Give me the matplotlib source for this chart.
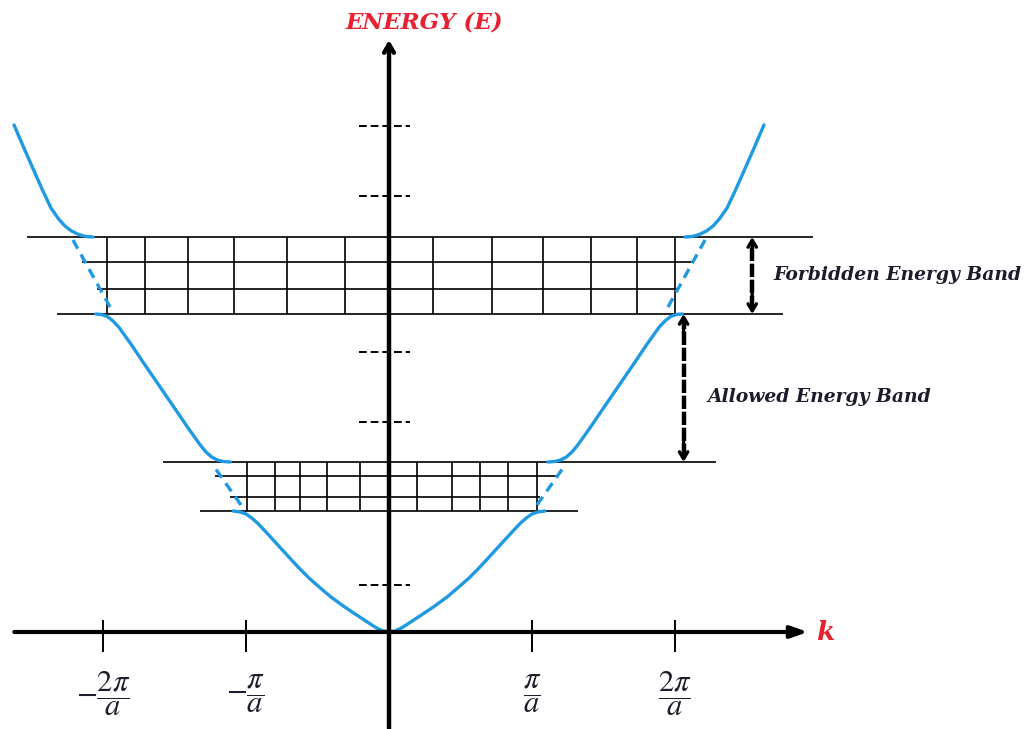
import numpy as np
import matplotlib.pyplot as plt

plt.rcParams["mathtext.fontset"] = "stix"

# k in units of pi/a, E in arbitrary energy units.
# Right-hand branches (k >= 0); the left side is the mirror image.
band1_k = [0.0, 0.04, 0.08, 0.12, 0.168, 0.24, 0.32, 0.406, 0.48, 0.56, 0.636,
           0.71, 0.79, 0.867, 0.92, 0.96, 1.00, 1.04, 1.09]
band1_E = [0.0, 0.01, 0.035, 0.07, 0.115, 0.183, 0.26, 0.35, 0.44, 0.54, 0.65,
           0.765, 0.89, 1.01, 1.09, 1.14, 1.18, 1.20, 1.21]

band2_k = [1.11, 1.16, 1.20, 1.24, 1.28, 1.32, 1.36, 1.40, 1.50, 1.615, 1.73,
           1.80, 1.85, 1.89, 1.93, 1.97, 2.01, 2.05]
band2_E = [1.70, 1.705, 1.72, 1.75, 1.80, 1.87, 1.95, 2.03, 2.24, 2.48, 2.72,
           2.87, 2.97, 3.05, 3.11, 3.155, 3.175, 3.18]

band3_k = [2.07, 2.12, 2.17, 2.22, 2.266, 2.31, 2.364, 2.42, 2.476, 2.55, 2.622]
band3_E = [3.95, 3.955, 3.975, 4.01, 4.06, 4.13, 4.24, 4.41, 4.59, 4.83, 5.07]

# free-electron parabola continued (dashed) through each gap
gap1_free_k = [1.035, 1.217]
gap1_free_E = [1.27, 1.64]
gap2_free_k = [1.951, 2.21]
gap2_free_E = [3.25, 3.92]

# hatching of the forbidden bands: (E, k_left, k_right)
gap2_rows_E = [3.95, 3.70, 3.43, 3.18]
gap2_rows_kl = [-2.531, -2.147, -2.042, -2.322]
gap2_rows_kr = [2.965, 2.119, 2.014, 2.755]
gap2_cols_k = [-1.972, -1.706, -1.406, -1.084, -0.713, -0.308,
               0.308, 0.720, 1.077, 1.413, 1.734, 2.000]

gap1_rows_E = [1.70, 1.56, 1.35, 1.21]
gap1_rows_kl = [-1.580, -1.217, -1.112, -1.322]
gap1_rows_kr = [2.287, 1.175, 1.056, 1.322]
gap1_cols_k = [-0.993, -0.797, -0.622, -0.434, -0.203,
               0.196, 0.441, 0.636, 0.832, 1.035]

# dashed marks on the energy axis
e_marks = [5.06, 4.36, 2.80, 2.10, 0.47]

k_ticks = [-2, -1, 1, 2]
k_tick_labels = [r"$-\dfrac{2\pi}{a}$", r"$-\dfrac{\pi}{a}$",
                 r"$\dfrac{\pi}{a}$", r"$\dfrac{2\pi}{a}$"]

BLUE = "#1f9ae2"
RED = "#e8202f"
INK = "#1c1c2c"

fig = plt.figure(figsize=(10.30, 7.29), dpi=100)
ax = fig.add_axes([0, 0, 1, 1])
ax.set_xlim(-389 / 143, (1030 - 389) / 143)
ax.set_ylim(-0.97, 6.32)
ax.axis("off")

# hatched forbidden regions
for rows_E, kl, kr, cols in [(gap2_rows_E, gap2_rows_kl, gap2_rows_kr, gap2_cols_k),
                             (gap1_rows_E, gap1_rows_kl, gap1_rows_kr, gap1_cols_k)]:
    ax.hlines(rows_E, kl, kr, color="black", lw=1.2, zorder=2)
    ax.vlines(cols, rows_E[-1], rows_E[0], color="black", lw=1.2, zorder=2)

# allowed bands
for ks, es in [(band1_k, band1_E), (band2_k, band2_E), (band3_k, band3_E)]:
    ks = np.array(ks)
    for sgn in (1, -1):
        ax.plot(sgn * ks, es, color=BLUE, lw=2.4, solid_capstyle="round",
                solid_joinstyle="round", zorder=4)

for ks, es in [(gap1_free_k, gap1_free_E), (gap2_free_k, gap2_free_E)]:
    ks = np.array(ks)
    for sgn in (1, -1):
        ax.plot(sgn * ks, es, color=BLUE, lw=2.4, ls=(0, (3, 2)), zorder=4)

# axes with arrows
ax.annotate("", xy=(2.93, 0), xytext=(-2.62, 0),
            arrowprops=dict(arrowstyle="-|>,head_length=1.0,head_width=0.35",
                            lw=3, color="black", shrinkA=0, shrinkB=0), zorder=5)
ax.annotate("", xy=(0, 5.92), xytext=(0, -0.97),
            arrowprops=dict(arrowstyle="->,head_length=0.6,head_width=0.35",
                            lw=3.2, color="black", shrinkA=0, shrinkB=0), zorder=5)

ax.vlines(k_ticks, -0.2, 0.12, color="black", lw=1.4, zorder=5)
for k, lab in zip(k_ticks, k_tick_labels):
    ax.text(k, -0.62, lab, ha="center", va="center", fontsize=22, color=INK)

ax.hlines(e_marks, -0.21, 0.15, color="black", lw=1.4, ls=(0, (4, 2)), zorder=5)

ax.text(0.25, 6.10, "ENERGY (E)", ha="center", va="center", color=RED,
        fontsize=16.5, fontweight="bold", fontstyle="italic", family="DejaVu Serif")
ax.text(3.05, 0.0, "k", ha="center", va="center", color=RED,
        fontsize=19, fontweight="bold", fontstyle="italic", family="DejaVu Serif")


def band_arrow(k, e_lo, e_hi):
    ax.plot([k, k], [e_lo + 0.05, e_hi - 0.05], color="black", lw=3.2,
            ls=(0, (3, 0.6)), zorder=5)
    head = dict(arrowstyle="->,head_length=0.5,head_width=0.3", lw=2.4,
                color="black", shrinkA=0, shrinkB=0)
    ax.annotate("", xy=(k, e_hi), xytext=(k, e_hi - 0.2), arrowprops=head, zorder=6)
    ax.annotate("", xy=(k, e_lo), xytext=(k, e_lo + 0.2), arrowprops=head, zorder=6)


band_arrow(2.54, 3.18, 3.95)
band_arrow(2.06, 1.70, 3.18)

ax.text(2.685, 3.57, "Forbidden Energy Band", ha="left", va="center", color=INK,
        fontsize=13.5, fontweight="bold", fontstyle="italic", family="DejaVu Serif")
ax.text(2.224, 2.35, "Allowed Energy Band", ha="left", va="center", color=INK,
        fontsize=13.5, fontweight="bold", fontstyle="italic", family="DejaVu Serif")

fig.savefig("out.png", dpi=100)
